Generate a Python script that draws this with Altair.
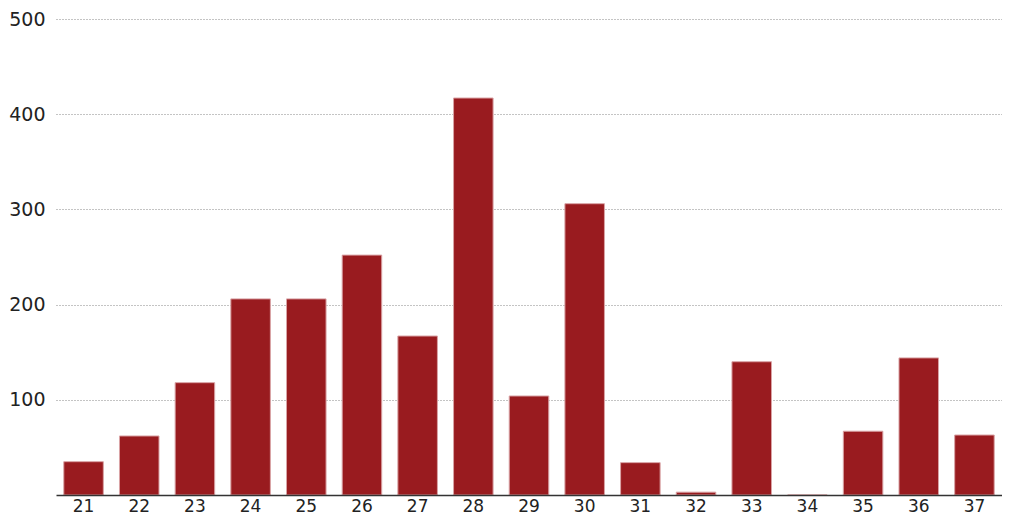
import altair as alt
import pandas as pd

categories = [str(c) for c in range(21, 38)]
values = [35, 62, 118, 206, 206, 252, 167, 417, 104, 306, 34, 3, 140, 0, 67, 144, 63]
y_ticks = [100, 200, 300, 400, 500]

df = pd.DataFrame({"cat": categories, "val": values})

chart = alt.Chart(df).mark_bar(
    color="#991b1f", stroke="#d9a3a5", strokeWidth=1
).encode(
    x=alt.X("cat:N", sort=categories, title=None,
            scale=alt.Scale(paddingInner=0.29, paddingOuter=0.14),
            axis=alt.Axis(labelAngle=0, labelFont="DejaVu Sans", labelFontSize=17,
                          labelColor="#222222", ticks=False, domainColor="#333333",
                          domainWidth=1.5, labelPadding=3, grid=False, zindex=1)),
    y=alt.Y("val:Q", title=None,
            scale=alt.Scale(domain=[0, 500], nice=False),
            axis=alt.Axis(values=y_ticks, labelFont="DejaVu Sans", labelFontSize=19,
                          labelColor="#222222", ticks=False, domain=False,
                          labelPadding=11, grid=True, gridColor="#888888",
                          gridDash=[1, 2], gridWidth=1)),
).properties(
    width=946, height=476,
    autosize=alt.AutoSizeParams(type="none"),
    padding={"left": 48, "top": 11, "right": 0, "bottom": 22},
).configure_view(stroke=None)

chart.save("out.html", embed_options={"renderer": "svg", "actions": False})
